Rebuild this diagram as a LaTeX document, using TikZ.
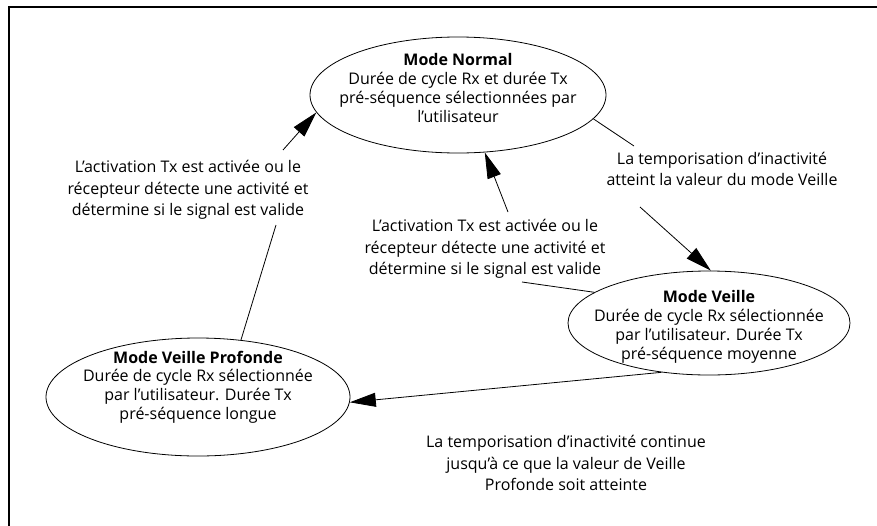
\documentclass[tikz,border=0pt]{standalone}
\usepackage{fontspec}
\setmainfont{Open Sans}
\usetikzlibrary{shapes.geometric,arrows.meta,calc}
\begin{document}
\begin{tikzpicture}[x=1pt,y=-1pt,
  state/.style={draw,ellipse,line width=0.8pt,inner sep=0pt},
  statetext/.style={align=center,font=\fontsize{16}{18.8}\selectfont,inner sep=0pt},
  edgelabel/.style={align=center,font=\fontsize{16}{21.3}\selectfont,inner sep=0pt},
  link/.style={line width=0.8pt},
  arrowlink/.style={line width=0.8pt,-{Triangle[length=26pt,width=14pt]}},
  frame/.style={line width=2.5pt}]
\useasboundingbox (0,0) rectangle (877,525);
% open frame: left and top sides
\draw[frame] (9,530) -- (9,7) -- (880,7);

% states
\node[state,minimum width=296pt,minimum height=116pt] (normal) at (458,95) {};
\node[statetext] (normaltxt) at (458,88)
  {\textbf{Mode Normal}\\Durée de cycle Rx et durée Tx\\pré-séquence sélectionnées par\\l’utilisateur};

\node[state,minimum width=282pt,minimum height=104pt] (veille) at (709,323) {};
\node[statetext] (veilletxt) at (709,327)
  {\textbf{Mode Veille}\\Durée de cycle Rx sélectionnée\\par l’utilisateur. Durée Tx\\pré-séquence moyenne};

\node[state,minimum width=304pt,minimum height=118pt] (profonde) at (198,397) {};
\node[statetext] (profondetxt) at (198,387)
  {\textbf{Mode Veille Profonde}\\Durée de cycle Rx sélectionnée\\par l’utilisateur. Durée Tx\\pré-séquence longue};

% transition labels
\node[edgelabel] (toveille) at (722,169)
  {La temporisation d’inactivité\\atteint la valeur du mode Veille};
\node[edgelabel] (wakemid) at (485,249)
  {L’activation Tx est activée ou le\\récepteur détecte une activité et\\détermine si le signal est valide};
\node[edgelabel] (wakeleft) at (188,190)
  {L’activation Tx est activée ou le\\récepteur détecte une activité et\\détermine si le signal est valide};
\node[edgelabel] (toprofonde) at (566,463)
  {La temporisation d’inactivité continue\\jusqu’à ce que la valeur de Veille\\Profonde soit atteinte};

% transitions, each broken by its label
\draw[link] (normal.-10) -- ([shift={(-88,-23)}]toveille.center);
\draw[arrowlink] ([shift={(-82,38)}]toveille.center) -- (veille.88);

\draw[link] (veille.165) -- ([shift={(37,33)}]wakemid.center);
\draw[arrowlink] ([shift={(23,-37)}]wakemid.center) -- (normal.-65);

\draw[link] (profonde.53) -- ([shift={(88,35)}]wakeleft.center);
\draw[arrowlink] ([shift={(95,-40)}]wakeleft.center) -- (normal.187);

\draw[arrowlink] (veille.-134) -- (profonde.-2);
\end{tikzpicture}
\end{document}
